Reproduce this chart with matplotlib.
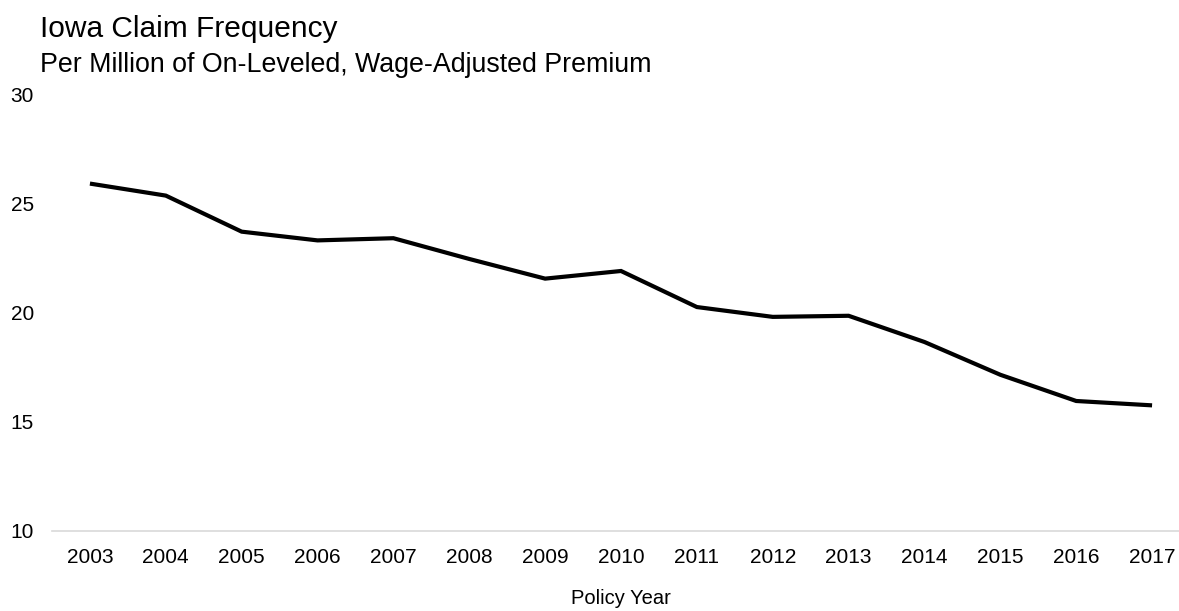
import matplotlib
matplotlib.use("Agg")
import matplotlib.pyplot as plt

# Iowa claim frequency per million of on-leveled, wage-adjusted premium
policy_years = ["2003", "2004", "2005", "2006", "2007", "2008", "2009", "2010",
                "2011", "2012", "2013", "2014", "2015", "2016", "2017"]
claim_frequency = [25.9, 25.35, 23.7, 23.3, 23.4, 22.45, 21.55, 21.9,
                   20.25, 19.8, 19.85, 18.65, 17.15, 15.95, 15.75]
y_ticks = [10, 15, 20, 25, 30]

plt.rcParams["font.family"] = ["Liberation Sans", "DejaVu Sans"]

W, H, DPI = 1179, 611, 100
fig = plt.figure(figsize=(W / DPI, H / DPI), dpi=DPI)

left_px, right_px, top_px, bottom_px = 52, 1190, 94, 531
ax = fig.add_axes([left_px / W, 1 - bottom_px / H,
                   (right_px - left_px) / W, (bottom_px - top_px) / H])

x = list(range(len(policy_years)))
ax.plot(x, claim_frequency, color="black", lw=3.0, solid_joinstyle="miter",
        solid_capstyle="butt")

ax.set_xlim(-0.5, len(policy_years) - 0.5)
ax.set_ylim(10, 30)
ax.set_xticks(x)
ax.set_xticklabels(policy_years)
ax.set_yticks(y_ticks)

for side in ["top", "right", "left"]:
    ax.spines[side].set_visible(False)
ax.spines["bottom"].set_color("#d9d9d9")
ax.spines["bottom"].set_linewidth(1.2)

ax.tick_params(axis="x", length=0, pad=12, labelsize=15, colors="black")
ax.tick_params(axis="y", length=0, pad=13, labelsize=15, colors="black")

fig.text(40 / W, 1 - 37 / H, "Iowa Claim Frequency", fontsize=21.5,
         ha="left", va="baseline", color="black")
fig.text(40 / W, 1 - 72 / H, "Per Million of On-Leveled, Wage-Adjusted Premium",
         fontsize=19.3, ha="left", va="baseline", color="black")
fig.text(621 / W, 1 - 598 / H, "Policy Year", fontsize=14.5,
         ha="center", va="center", color="black")

fig.savefig("out.png", dpi=DPI)
